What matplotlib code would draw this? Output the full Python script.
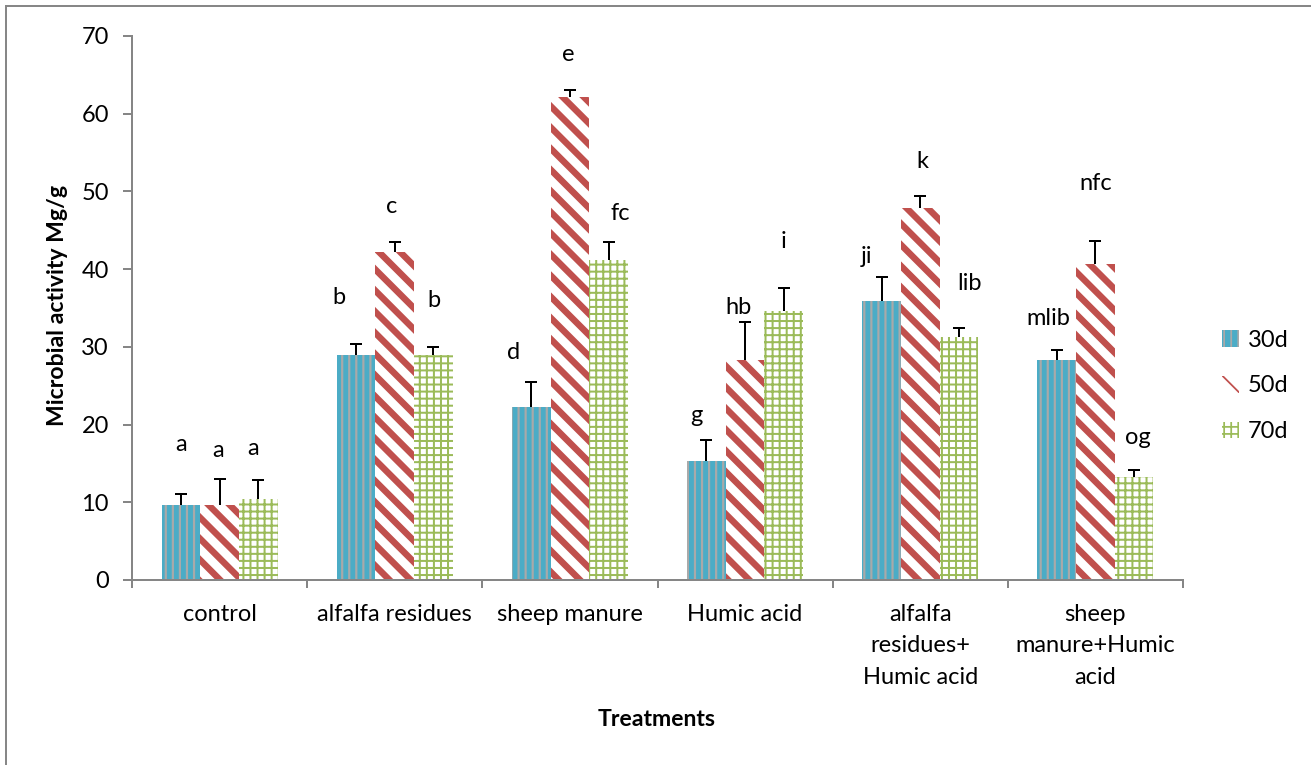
import matplotlib.pyplot as plt
import numpy as np
from matplotlib.patches import Patch, Rectangle

treatments = ["control", "alfalfa residues", "sheep manure", "Humic acid",
              "alfalfa\nresidues+\nHumic acid", "sheep\nmanure+Humic\nacid"]
days = ["30d", "50d", "70d"]

# mean microbial activity per treatment
vals_30 = [9.7, 29.0, 22.3, 15.3, 35.9, 28.3]
vals_50 = [9.7, 42.2, 62.2, 28.3, 47.9, 40.7]
vals_70 = [10.4, 29.0, 41.2, 34.6, 31.3, 13.2]

# upper error bars
err_30 = [1.4, 1.4, 3.2, 2.7, 3.1, 1.3]
err_50 = [3.3, 1.3, 0.8, 4.9, 1.5, 2.9]
err_70 = [2.5, 1.0, 2.3, 3.0, 1.1, 1.0]

# significance letters
letters_30 = ["a", "b", "d", "g", "ji", "mlib"]
letters_50 = ["a", "c", "e", "hb", "k", "nfc"]
letters_70 = ["a", "b", "fc", "i", "lib", "og"]

# where each letter sits (height in y units, x shift in group units)
letter_y_30 = [17.4, 36.3, 29.3, 21.2, 41.6, 33.7]
letter_y_50 = [16.6, 48.0, 67.6, 35.1, 53.8, 51.0]
letter_y_70 = [16.9, 36.0, 47.1, 43.5, 38.2, 18.4]
letter_dx_30 = [0.0, -0.10, -0.10, -0.055, -0.085, -0.05]
letter_dx_50 = [-0.01, -0.015, -0.01, -0.04, 0.01, 0.0]
letter_dx_70 = [-0.03, 0.0, 0.065, 0.0, 0.06, 0.02]

# hatch tiles scale with dpi, so render at 127 dpi and size everything in pixels
DPI = 127
W, H = 1311, 765


def pt(px):
    # pixel size -> points at this dpi
    return px * 72 / DPI


plt.rcParams["font.family"] = ["Lato", "DejaVu Sans"]
FS = pt(23.6)

series = [
    dict(vals=vals_30, err=err_30, letters=letters_30, ly=letter_y_30, ldx=letter_dx_30,
         face="#4BACC6", hcol="#A9A9A9", hatch="|||", hlw=pt(2.2)),
    dict(vals=vals_50, err=err_50, letters=letters_50, ly=letter_y_50, ldx=letter_dx_50,
         face="white", hcol="#C0504D", hatch="\\\\", hlw=pt(6.5)),
    dict(vals=vals_70, err=err_70, letters=letters_70, ly=letter_y_70, ldx=letter_dx_70,
         face="white", hcol="#9BBB59", hatch="+++", hlw=pt(2.0)),
]

fig = plt.figure(figsize=(W / DPI, H / DPI), dpi=DPI)
ax = fig.add_axes([132 / W, 1 - 580 / H, 1051 / W, 544 / H])

x = np.arange(len(treatments))
w = 0.221
handles = []
for i, s in enumerate(series):
    pos = x + (i - 1) * w
    with plt.rc_context({"hatch.linewidth": s["hlw"]}):
        ax.bar(pos, s["vals"], width=w, color=s["face"], edgecolor=s["hcol"],
               hatch=s["hatch"], linewidth=0, zorder=2)
        handles.append(Patch(facecolor=s["face"], edgecolor=s["hcol"],
                             hatch=s["hatch"], linewidth=0, label=days[i]))
    eb = ax.errorbar(pos, s["vals"], yerr=[np.zeros(len(x)), s["err"]], fmt="none",
                     ecolor="black", elinewidth=pt(2), capsize=pt(6), capthick=pt(2),
                     zorder=3)
    # keep only the upper cap
    eb[1][0].set_visible(False)
    for j in range(len(x)):
        ax.text(pos[j] + s["ldx"][j], s["ly"][j], s["letters"][j], ha="center",
                va="center", fontsize=FS, color="black")

ax.set_xlim(-0.5, 5.5)
ax.set_ylim(0, 70)
ax.set_yticks(np.arange(0, 71, 10))
ax.set_xticks(x)
ax.set_xticklabels(treatments, fontsize=FS, linespacing=1.62)
ax.set_xticks(np.arange(-0.5, 6, 1), minor=True)

for side in ("top", "right"):
    ax.spines[side].set_visible(False)
for side in ("left", "bottom"):
    ax.spines[side].set_color("#868686")
    ax.spines[side].set_linewidth(pt(2))

ax.tick_params(axis="y", length=pt(9), width=pt(2), color="#868686", labelsize=FS,
               pad=pt(14))
ax.tick_params(axis="x", which="major", length=0, pad=pt(23.6))
ax.tick_params(axis="x", which="minor", length=pt(8), width=pt(2), color="#868686")

fig.text(57 / W, 1 - 305 / H, "Microbial activity Mg/g", rotation=90,
         ha="center", va="center", fontsize=pt(23), fontweight="bold")
fig.text(657 / W, 1 - 720 / H, "Treatments", ha="center", va="center",
         fontsize=pt(23), fontweight="bold")

fig.legend(handles=handles, loc="center left", bbox_to_anchor=(1222 / W, 1 - 386 / H),
           frameon=False, fontsize=FS, handlelength=0.7, handleheight=0.7,
           handletextpad=0.4, labelspacing=1.05, borderpad=0, borderaxespad=0)

# thin frame around the chart area
fig.patches.append(Rectangle((6 / W, -0.1), 1.2, 1.1 - 6 / H, transform=fig.transFigure,
                             fill=False, edgecolor="#878787", linewidth=pt(2)))

fig.savefig("out.png", dpi=DPI)
